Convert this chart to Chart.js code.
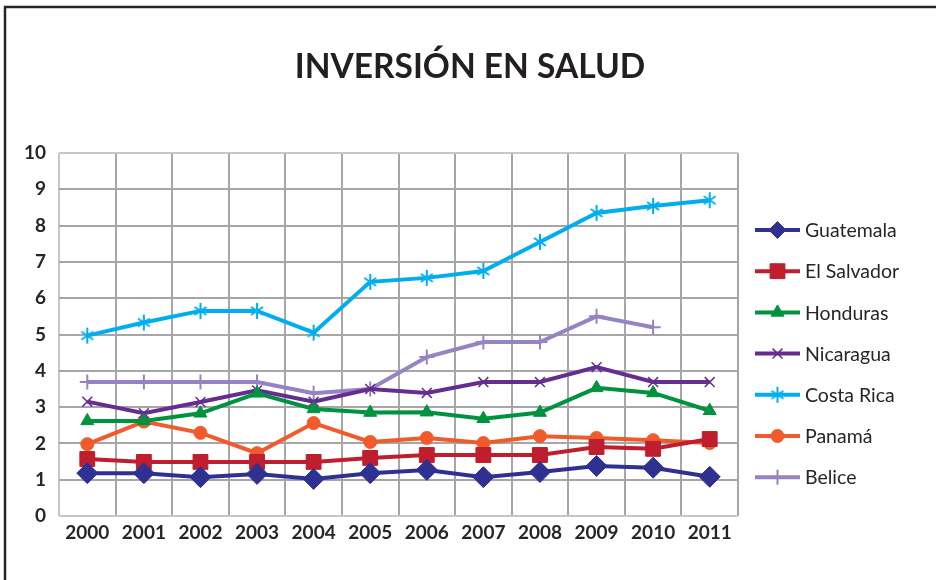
<!DOCTYPE html>
<html>
<head>
<meta charset="utf-8">
<script src="https://cdn.jsdelivr.net/npm/chart.js@4.4.1/dist/chart.umd.min.js"></script>
<style>
html,body{margin:0;padding:0;background:#fff;}
#wrap{position:relative;width:936px;height:580px;}
</style>
</head>
<body>
<div id="wrap"><canvas id="c" width="936" height="580"></canvas></div>
<script>
// ---- data ----
const years = ['2000','2001','2002','2003','2004','2005','2006','2007','2008','2009','2010','2011'];
const seriesNames = ['Guatemala','El Salvador','Honduras','Nicaragua','Costa Rica','Panamá','Belice'];
const guatemala = [1.18,1.18,1.07,1.16,1.02,1.18,1.27,1.07,1.21,1.38,1.33,1.08];
const elSalvador = [1.57,1.49,1.49,1.49,1.49,1.60,1.68,1.68,1.68,1.90,1.85,2.12];
const honduras = [2.62,2.62,2.83,3.38,2.95,2.85,2.86,2.68,2.85,3.53,3.39,2.90];
const nicaragua = [3.15,2.83,3.14,3.46,3.15,3.50,3.39,3.69,3.69,4.10,3.69,3.69];
const costaRica = [4.97,5.33,5.65,5.65,5.05,6.45,6.56,6.75,7.55,8.35,8.54,8.70];
const panama = [1.98,2.60,2.29,1.73,2.56,2.04,2.15,2.01,2.20,2.15,2.09,2.01];
const belice = [3.69,3.69,3.69,3.69,3.38,3.50,4.38,4.79,4.79,5.50,5.20,null];
const yMin = 0, yMax = 10, yStep = 1;
const titleText = 'INVERSIÓN EN SALUD';

// ---- styles ----
const FONT = 'Lato, "Open Sans", sans-serif';
const colors = ['#2e3192','#be1e2d','#00933f','#662d91','#00aeef','#f15a2b','#9583c3'];

function starCanvas(color){
  const c = document.createElement('canvas');
  c.width = 18; c.height = 18;
  const g = c.getContext('2d');
  g.strokeStyle = color; g.lineWidth = 2;
  g.beginPath();
  g.moveTo(9,1); g.lineTo(9,17);
  g.moveTo(3,5); g.lineTo(15,13);
  g.moveTo(3,13); g.lineTo(15,5);
  g.stroke();
  return c;
}

const pointDefs = [
  {pointStyle:'rectRot', pointRadius:10.5, pointBorderWidth:1},
  {pointStyle:'rect', pointRadius:10.5, pointBorderWidth:1},
  {pointStyle:'triangle', pointRadius:7.5, pointBorderWidth:1},
  {pointStyle:'crossRot', pointRadius:7, pointBorderWidth:1.5},
  {pointStyle:starCanvas(colors[4]), pointRadius:8, pointBorderWidth:2},
  {pointStyle:'circle', pointRadius:6.5, pointBorderWidth:1},
  {pointStyle:'cross', pointRadius:7.5, pointBorderWidth:2}
];
const seriesData = [guatemala, elSalvador, honduras, nicaragua, costaRica, panama, belice];

const datasets = seriesNames.map((name,i)=>Object.assign({
  label:name,
  data:seriesData[i],
  borderColor:colors[i],
  backgroundColor:colors[i],
  pointBackgroundColor:colors[i],
  pointBorderColor:colors[i],
  borderWidth:4,
  tension:0,
  spanGaps:false
}, pointDefs[i]));

// frame around whole picture
const framePlugin = {
  id:'frame',
  beforeDraw(chart){
    const ctx = chart.ctx;
    ctx.save();
    ctx.fillStyle = '#fff';
    ctx.fillRect(0,0,chart.width,chart.height);
    ctx.strokeStyle = '#262626';
    ctx.lineWidth = 2.5;
    ctx.beginPath();
    ctx.moveTo(5, chart.height);
    ctx.lineTo(5, 7);
    ctx.lineTo(chart.width, 7);
    ctx.stroke();
    ctx.restore();
  }
};

// side legend: line + marker + label
const legendPlugin = {
  id:'sideLegend',
  afterDraw(chart){
    const ctx = chart.ctx;
    const ca = chart.chartArea;
    const x0 = ca.right + 17, x1 = ca.right + 62;
    const y0 = ca.top + 77, step = 41.2;
    ctx.save();
    chart.data.datasets.forEach((ds,i)=>{
      const y = y0 + i*step;
      ctx.strokeStyle = ds.borderColor;
      ctx.lineWidth = 4;
      ctx.beginPath();
      ctx.moveTo(x0,y); ctx.lineTo(x1,y); ctx.stroke();
      ctx.fillStyle = ds.backgroundColor;
      ctx.strokeStyle = ds.borderColor;
      ctx.lineWidth = ds.pointBorderWidth;
      const r = ds.pointStyle === 'rectRot' ? 8.5 : (ds.pointStyle==='rect' ? 10.5 : ds.pointRadius);
      Chart.helpers.drawPoint(ctx, {pointStyle:ds.pointStyle, radius:r, borderWidth:ds.pointBorderWidth, rotation:0}, (x0+x1)/2, y);
      ctx.fillStyle = '#262626';
      ctx.font = '19.5px ' + FONT;
      ctx.textAlign = 'left';
      ctx.textBaseline = 'middle';
      ctx.fillText(ds.label, x1 + 5, y + 1);
    });
    ctx.restore();
  }
};

function gridColorFor(lastIndex){
  return (c)=> (c.index===0 || c.index===lastIndex) ? '#c6c6c6' : '#a6a6a8';
}

new Chart(document.getElementById('c'), {
  type:'line',
  data:{labels:years, datasets:datasets},
  options:{
    responsive:false,
    animation:false,
    layout:{padding:{left:4,right:0,top:0,bottom:0}},
    plugins:{
      legend:{display:false},
      tooltip:{enabled:false},
      title:{
        display:true,
        text:titleText,
        color:'#231f20',
        font:{family:FONT, size:33.5, weight:'bold', lineHeight:1.2},
        padding:{top:47, bottom:65.8}
      }
    },
    scales:{
      x:{
        offset:true,
        grid:{offset:true, color:gridColorFor(years.length), lineWidth:2, drawTicks:false},
        border:{display:false},
        ticks:{font:{family:FONT, size:19, weight:'bold'}, color:'#262626', padding:5},
        afterFit(s){ s.height = 64; }
      },
      y:{
        min:yMin, max:yMax,
        grid:{color:gridColorFor((yMax-yMin)/yStep), lineWidth:2, drawTicks:false},
        border:{display:false},
        ticks:{stepSize:yStep, font:{family:FONT, size:19, weight:'bold'}, color:'#262626', padding:13},
        afterFit(s){ s.width = 55; }
      },
      legendSpace:{
        position:'right',
        display:true,
        grid:{display:false, drawTicks:false},
        border:{display:false},
        ticks:{display:false},
        afterFit(s){ s.width = 198; }
      }
    }
  },
  plugins:[framePlugin, legendPlugin]
});
</script>
</body>
</html>
